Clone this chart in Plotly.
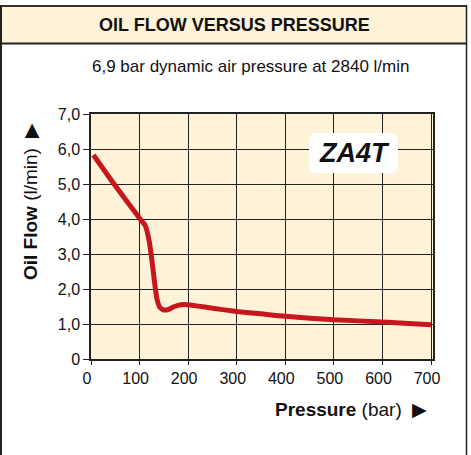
import plotly.graph_objects as go

# ---- data ----
pressure_bar = [5, 50, 100, 112, 120, 126, 131, 136, 142, 150, 160, 172, 185, 200, 250, 300, 350, 400, 500, 600, 700]
oil_flow_lpm = [5.83, 4.95, 4.02, 3.80, 3.35, 2.75, 2.17, 1.70, 1.47, 1.40, 1.42, 1.50, 1.55, 1.55, 1.45, 1.36, 1.29, 1.22, 1.12, 1.06, 0.98]
x_ticks = [0, 100, 200, 300, 400, 500, 600, 700]
y_ticks = [0, 1, 2, 3, 4, 5, 6, 7]
y_tick_labels = ["0", "1,0", "2,0", "3,0", "4,0", "5,0", "6,0", "7,0"]
title_text = "OIL FLOW VERSUS PRESSURE"
subtitle_text = "6,9 bar dynamic air pressure at 2840 l/min"
model_label = "ZA4T"

W, H = 471, 455
ML, MR, MT, MB = 91, 38, 114, 96
PW, PH = W - ML - MR, H - MT - MB

def px(x):
    return (x - ML) / PW

def py(y):
    return (H - MB - y) / PH

FONT = "Liberation Sans Narrow, Arial Narrow, Liberation Sans, Arial, sans-serif"
BEIGE = "#FEF3D8"

fig = go.Figure()
fig.add_trace(go.Scatter(
    x=pressure_bar, y=oil_flow_lpm, mode="lines",
    line=dict(color="#C8161D", width=5, shape="spline", smoothing=0.6),
    hoverinfo="skip", showlegend=False,
))

shapes = []
shapes.append(dict(type="rect", xref="paper", yref="paper", x0=px(0), x1=px(466.5), y0=py(43.5), y1=py(6),
                   fillcolor=BEIGE, line=dict(width=0), layer="below"))
shapes.append(dict(type="line", xref="paper", yref="paper", x0=px(0), x1=px(466.5), y0=py(6), y1=py(6),
                   line=dict(color="#333333", width=2)))
shapes.append(dict(type="line", xref="paper", yref="paper", x0=px(0), x1=px(466.5), y0=py(43.5), y1=py(43.5),
                   line=dict(color="#222222", width=2)))
shapes.append(dict(type="line", xref="paper", yref="paper", x0=px(1), x1=px(1), y0=py(5), y1=py(456),
                   line=dict(color="#222222", width=2)))
shapes.append(dict(type="line", xref="paper", yref="paper", x0=px(466.5), x1=px(466.5), y0=py(5), y1=py(456),
                   line=dict(color="#222222", width=1.5)))
x0, x1, y0, y1, r = px(309), px(398), py(173), py(133), 7
rx, ry = r / PW, r / PH
path = (f"M {x0+rx},{y1} L {x1-rx},{y1} Q {x1},{y1} {x1},{y1-ry} L {x1},{y0+ry} Q {x1},{y0} {x1-rx},{y0} "
        f"L {x0+rx},{y0} Q {x0},{y0} {x0},{y0+ry} L {x0},{y1-ry} Q {x0},{y1} {x0+rx},{y1} Z")
shapes.append(dict(type="path", xref="paper", yref="paper", path=path, fillcolor="white",
                   line=dict(width=0), layer="above"))

def ann(text, x, y, size, xanchor="center", angle=0, family=FONT):
    return dict(text=text, xref="paper", yref="paper", x=px(x), y=py(y), xanchor=xanchor, yanchor="middle",
                textangle=angle, showarrow=False, font=dict(family=family, size=size, color="#111"))

annotations = [
    ann(f"<b>{title_text}</b>", 234, 25, 18),
    ann(subtitle_text, 251, 67, 17),
    ann("<b>Oil Flow</b> (l/min)  ▶", 30, 201, 19, angle=-90),
    ann("<b>Pressure</b> (bar)  ▶", 429, 409, 19, xanchor="right"),
    ann(f"<b><i>{model_label}</i></b>", 354, 153, 27, family="Liberation Sans, Arial, sans-serif"),
]

fig.update_layout(
    width=W, height=H, margin=dict(l=ML, r=MR, t=MT, b=MB, pad=0),
    paper_bgcolor="white", plot_bgcolor=BEIGE,
    shapes=shapes, annotations=annotations, showlegend=False,
    xaxis=dict(range=[0, 704], tickvals=x_ticks, ticktext=[str(v) for v in x_ticks],
               showgrid=True, gridcolor="#222222", gridwidth=1, zeroline=False,
               showline=True, linecolor="#222222", linewidth=1.5, mirror=True,
               ticks="outside", ticklen=4, tickcolor="#222222", ticklabelshift=-4,
               tickfont=dict(family=FONT, size=16, color="#111")),
    yaxis=dict(range=[0, 7], tickvals=y_ticks, ticktext=y_tick_labels,
               showgrid=True, gridcolor="#222222", gridwidth=1, zeroline=False,
               showline=True, linecolor="#222222", linewidth=1.5, mirror=True,
               ticks="outside", ticklen=6, tickcolor="#222222",
               tickfont=dict(family=FONT, size=16, color="#111")),
)

fig.write_html("out.html", include_plotlyjs=True, config={"displayModeBar": False},
               post_script="document.body.style.margin='0';")
